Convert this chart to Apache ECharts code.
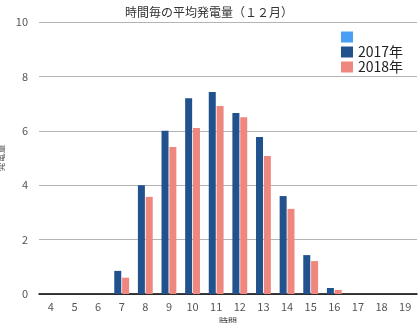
<!DOCTYPE html>
<html><head><meta charset="utf-8">
<script src="https://cdn.jsdelivr.net/npm/echarts@6/dist/echarts.min.js"></script>
<style>html,body{margin:0;padding:0;background:#fff}#c{width:418px;height:323px}</style>
</head><body><div id="c"></div>
<script>
var hours = ['4','5','6','7','8','9','10','11','12','13','14','15','16','17','18','19'];
var s2017 = [0,0,0,0.85,4.0,6.0,7.2,7.43,6.65,5.77,3.6,1.43,0.22,0,0,0];
var s2018 = [0,0,0,0.6,3.57,5.4,6.1,6.91,6.5,5.07,3.13,1.21,0.15,0,0,0];
var blank = [];
var chart = echarts.init(document.getElementById('c'));
var font = '"Noto Sans CJK JP", "Noto Sans", sans-serif';
chart.setOption({
  animation:false,
  textStyle:{fontFamily:font},
  title:{text:'時間毎の平均発電量（１２月）',left:'center',top:1,textStyle:{fontSize:12,fontWeight:'normal',color:'#333',fontFamily:font}},
  legend:{orient:'vertical',left:336,top:25,itemWidth:12,itemHeight:11,itemGap:1,icon:'rect',
    data:[{name:' ',icon:'rect'},{name:'2017年',icon:'rect'},{name:'2018年',icon:'rect'}],
    textStyle:{fontSize:14,lineHeight:13,color:'#222',fontFamily:font}},
  grid:{left:39,right:1,top:22,bottom:29,containLabel:false,outerBoundsMode:'none'},
  xAxis:{type:'category',data:hours,name:'時間',nameLocation:'middle',nameGap:18,
    nameTextStyle:{fontSize:9,color:'#333'},
    axisLine:{lineStyle:{color:'#000',width:1.5}},axisTick:{show:false},
    axisLabel:{fontSize:11,color:'#555',margin:7}},
  yAxis:{type:'value',min:0,max:10,interval:2,name:'発電量',nameLocation:'middle',nameGap:25,
    nameTextStyle:{fontSize:9,color:'#555'},
    axisLabel:{fontSize:11,color:'#555',margin:11},
    splitLine:{lineStyle:{color:'#b4b4b4',width:1}}},
  series:[
    {name:' ',type:'line',data:blank,itemStyle:{color:'#4a9ff5'},lineStyle:{color:'#4a9ff5'}},
    {name:'2017年',type:'bar',data:s2017,barWidth:7,barGap:'12%',itemStyle:{color:'#22528e'}},
    {name:'2018年',type:'bar',data:s2018,barWidth:7,barGap:'12%',itemStyle:{color:'#f0877e'}}
  ]
});
</script></body></html>
